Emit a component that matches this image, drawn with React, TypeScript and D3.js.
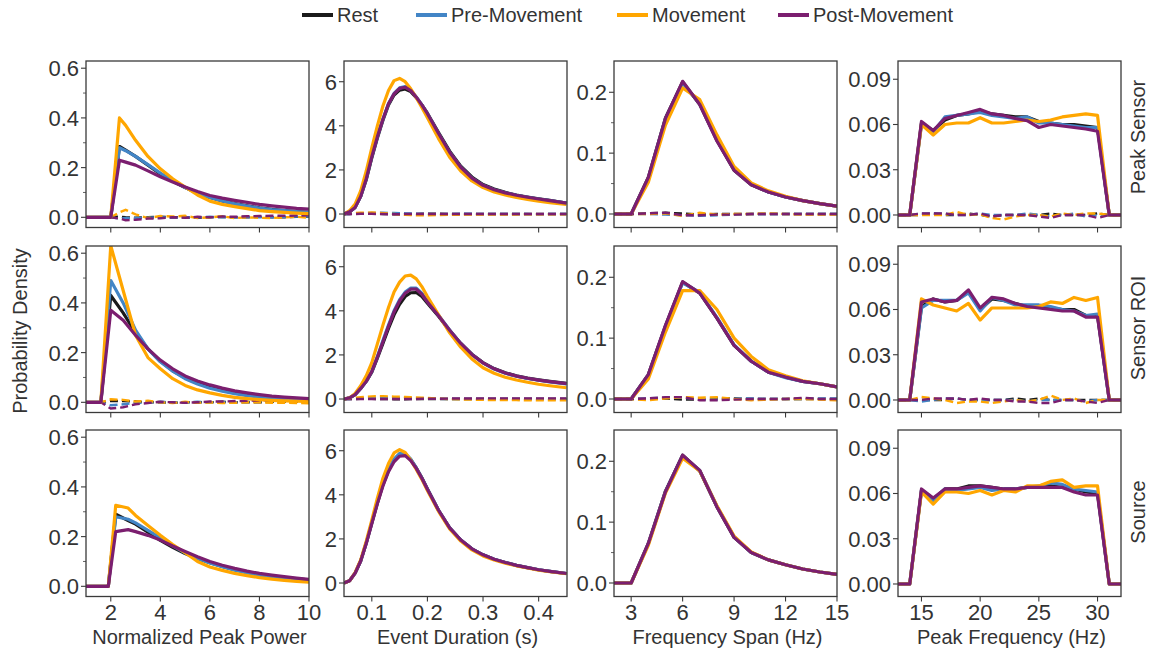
import React from 'react';
import * as d3 from 'd3';

// ---------------- legend / labels ----------------
const CONDITIONS = ['Rest', 'Pre-Movement', 'Movement', 'Post-Movement'];
const COLORS = ['#1a1a1a', '#4285c6', '#ffa600', '#7b1e6f'];
const ROW_LABELS = ['Peak Sensor', 'Sensor ROI', 'Source'];
const X_LABELS = ['Normalized Peak Power', 'Event Duration (s)', 'Frequency Span (Hz)', 'Peak Frequency (Hz)'];
const Y_LABEL = 'Probability Density';

// ---------------- tick values ----------------
const powerXTicks = [2, 4, 6, 8, 10];
const durXTicks = [0.1, 0.2, 0.3, 0.4];
const spanXTicks = [3, 6, 9, 12, 15];
const freqXTicks = [15, 20, 25, 30];
const powerYTicks = [0, 0.2, 0.4, 0.6];
const durYTicks = [0, 2, 4, 6];
const spanYTicks = [0, 0.1, 0.2];
const freqYTicks = [0, 0.03, 0.06, 0.09];
const powerYMinor = [0.1, 0.3, 0.5];
const spanYMinor = [0.05, 0.15];

// ---------------- Normalized Peak Power ----------------
const powerX1 = [1, 2.0, 2.35, 2.6, 3, 3.5, 4, 4.5, 5, 5.5, 6, 6.5, 7, 7.5, 8, 8.5, 9, 9.5, 10];
const powerX2 = [1, 1.6, 2.0, 2.5, 3, 3.5, 4, 4.5, 5, 5.5, 6, 6.5, 7, 7.5, 8, 8.5, 9, 9.5, 10];
const powerX3 = [1, 1.9, 2.2, 2.7, 3, 3.5, 4, 4.5, 5, 5.5, 6, 6.5, 7, 7.5, 8, 8.5, 9, 9.5, 10];

const powerR1Rest = [0, 0, 0.285, 0.27, 0.245, 0.21, 0.175, 0.145, 0.12, 0.098, 0.08, 0.066, 0.055, 0.046, 0.038, 0.032, 0.027, 0.023, 0.02];
const powerR1Pre = [0, 0, 0.28, 0.268, 0.245, 0.212, 0.178, 0.147, 0.12, 0.098, 0.08, 0.066, 0.054, 0.045, 0.037, 0.031, 0.027, 0.023, 0.02];
const powerR1Move = [0, 0, 0.4, 0.37, 0.31, 0.245, 0.195, 0.155, 0.122, 0.09, 0.065, 0.052, 0.043, 0.035, 0.027, 0.023, 0.02, 0.017, 0.015];
const powerR1Post = [0, 0, 0.23, 0.222, 0.21, 0.187, 0.163, 0.142, 0.122, 0.104, 0.088, 0.077, 0.068, 0.06, 0.052, 0.046, 0.041, 0.036, 0.033];
const powerR1RestD = [0, 0, 0.003, 0, -0.002, 0, 0.002, 0, 0, -0.002, 0, 0.002, 0, 0, 0.002, 0, 0, 0.002, 0.003];
const powerR1PreD = [0, 0, -0.005, -0.003, -0.004, -0.002, 0, -0.002, 0, 0, 0.002, 0, 0, 0.002, 0, 0, 0.002, 0.003, 0.004];
const powerR1MoveD = [0, 0, 0.02, 0.03, 0.012, -0.003, 0.005, 0.003, 0.006, -0.003, 0, 0.004, -0.003, 0, -0.002, -0.003, 0, 0.002, -0.002];
const powerR1PostD = [0, 0, -0.005, -0.012, -0.01, -0.005, -0.004, 0, -0.002, 0.002, 0, 0.003, 0.002, 0.004, 0.005, 0.006, 0.006, 0.007, 0.008];

const powerR2Rest = [0, 0, 0.43, 0.36, 0.28, 0.215, 0.165, 0.127, 0.098, 0.077, 0.06, 0.048, 0.038, 0.03, 0.024, 0.019, 0.015, 0.012, 0.01];
const powerR2Pre = [0, 0, 0.49, 0.4, 0.29, 0.215, 0.163, 0.125, 0.095, 0.074, 0.057, 0.045, 0.035, 0.027, 0.021, 0.016, 0.012, 0.01, 0.008];
const powerR2Move = [0, 0, 0.63, 0.45, 0.27, 0.18, 0.135, 0.095, 0.068, 0.05, 0.038, 0.028, 0.02, 0.015, 0.011, 0.008, 0.006, 0.005, 0.004];
const powerR2Post = [0, 0, 0.37, 0.33, 0.27, 0.215, 0.17, 0.135, 0.106, 0.086, 0.07, 0.057, 0.046, 0.038, 0.031, 0.025, 0.021, 0.018, 0.015];
const powerR2RestD = [0, 0, 0.005, 0.005, 0.003, 0, 0, -0.002, 0, 0, 0, 0.002, 0, 0, 0, 0.002, 0.002, 0.002, 0.002];
const powerR2PreD = [0, 0, -0.012, -0.008, -0.003, 0, 0.002, 0, 0, 0.002, 0, 0, 0, 0.002, 0.003, 0.004, 0.004, 0.003, 0.003];
const powerR2MoveD = [0, 0, 0.012, 0.01, 0.003, 0.006, 0, -0.003, 0.002, -0.002, 0, -0.003, -0.002, 0, 0, -0.002, -0.002, -0.003, -0.004];
const powerR2PostD = [0, 0, -0.025, -0.02, -0.008, -0.003, 0.002, 0, -0.002, 0, 0.003, 0.003, 0.005, 0.006, 0.008, 0.009, 0.01, 0.01, 0.01];

const powerR3Rest = [0, 0, 0.29, 0.265, 0.25, 0.218, 0.185, 0.157, 0.132, 0.112, 0.095, 0.08, 0.067, 0.057, 0.048, 0.041, 0.035, 0.03, 0.026];
const powerR3Pre = [0, 0, 0.28, 0.27, 0.255, 0.225, 0.195, 0.163, 0.135, 0.113, 0.094, 0.079, 0.065, 0.054, 0.045, 0.038, 0.032, 0.028, 0.024];
const powerR3Move = [0, 0, 0.326, 0.315, 0.285, 0.245, 0.205, 0.168, 0.135, 0.1, 0.078, 0.064, 0.052, 0.043, 0.035, 0.029, 0.024, 0.02, 0.017];
const powerR3Post = [0, 0, 0.22, 0.228, 0.22, 0.205, 0.186, 0.162, 0.14, 0.119, 0.1, 0.085, 0.072, 0.061, 0.052, 0.045, 0.039, 0.033, 0.028];

// ---------------- Event Duration ----------------
const durX = [0.05, 0.06, 0.07, 0.08, 0.09, 0.1, 0.11, 0.12, 0.13, 0.14, 0.15, 0.16, 0.17, 0.18, 0.19, 0.2, 0.22, 0.24, 0.26, 0.28, 0.3, 0.32, 0.34, 0.36, 0.38, 0.4, 0.42, 0.45];

const durR1Rest = [0, 0.1, 0.3, 0.8, 1.55, 2.55, 3.45, 4.25, 4.95, 5.4, 5.62, 5.67, 5.55, 5.28, 4.95, 4.57, 3.7, 2.85, 2.17, 1.68, 1.34, 1.13, 0.98, 0.86, 0.77, 0.69, 0.62, 0.5];
const durR1Pre = [0, 0.1, 0.3, 0.8, 1.6, 2.6, 3.5, 4.3, 5.0, 5.47, 5.72, 5.78, 5.62, 5.31, 4.95, 4.55, 3.65, 2.8, 2.12, 1.63, 1.3, 1.1, 0.96, 0.85, 0.76, 0.68, 0.61, 0.49];
const durR1Move = [0, 0.15, 0.45, 1.05, 1.95, 3.0, 4.0, 4.9, 5.6, 6.05, 6.15, 6.0, 5.68, 5.28, 4.83, 4.37, 3.42, 2.58, 1.95, 1.5, 1.2, 1.0, 0.86, 0.75, 0.66, 0.58, 0.52, 0.43];
const durR1Post = [0, 0.1, 0.3, 0.8, 1.6, 2.6, 3.5, 4.3, 5.0, 5.45, 5.7, 5.75, 5.6, 5.3, 4.95, 4.55, 3.65, 2.8, 2.12, 1.63, 1.3, 1.1, 0.96, 0.85, 0.76, 0.68, 0.61, 0.49];
const durR1RestD = [0, 0, 0.01, 0.02, 0.02, 0.02, 0.01, 0, 0, -0.01, -0.01, 0, 0, 0, 0.01, 0.01, 0.01, 0, 0, 0, 0, 0, 0, 0, 0, 0, 0, 0];
const durR1PreD = [0, 0, 0.02, 0.03, 0.04, 0.05, 0.05, 0.06, 0.05, 0.05, 0.04, 0.03, 0.02, 0.01, 0, 0, -0.01, 0, 0.01, 0.01, 0, 0, 0, 0, 0, -0.01, 0, 0];
const durR1MoveD = [0, 0.02, 0.04, 0.06, 0.06, 0.07, 0.06, 0.04, 0.02, 0, -0.02, -0.04, -0.05, -0.06, -0.06, -0.06, -0.05, -0.04, -0.03, -0.03, -0.02, -0.02, -0.02, -0.02, -0.01, -0.01, -0.01, -0.01];
const durR1PostD = [0, 0, 0, 0.01, 0.01, 0.01, 0, 0, -0.01, -0.01, -0.01, 0, 0, 0, 0, 0, 0, 0, 0, 0, 0, 0, 0, 0, 0, 0, 0, 0];

const durR2Rest = [0, 0.05, 0.2, 0.48, 0.8, 1.22, 1.85, 2.52, 3.2, 3.82, 4.3, 4.65, 4.82, 4.83, 4.65, 4.35, 3.75, 3.1, 2.52, 2.03, 1.65, 1.38, 1.19, 1.05, 0.95, 0.87, 0.8, 0.71];
const durR2Pre = [0, 0.05, 0.2, 0.48, 0.8, 1.25, 1.92, 2.65, 3.35, 4.0, 4.5, 4.85, 5.03, 5.03, 4.8, 4.42, 3.8, 3.13, 2.52, 2.02, 1.63, 1.36, 1.17, 1.03, 0.93, 0.85, 0.78, 0.69];
const durR2Move = [0, 0.05, 0.25, 0.6, 1.05, 1.65, 2.5, 3.35, 4.15, 4.85, 5.3, 5.58, 5.62, 5.45, 5.1, 4.65, 3.82, 3.0, 2.35, 1.82, 1.42, 1.17, 0.99, 0.86, 0.76, 0.67, 0.6, 0.51];
const durR2Post = [0, 0.05, 0.2, 0.48, 0.8, 1.25, 1.9, 2.6, 3.3, 3.95, 4.45, 4.8, 4.98, 4.98, 4.75, 4.4, 3.78, 3.12, 2.52, 2.02, 1.64, 1.37, 1.18, 1.04, 0.94, 0.86, 0.79, 0.7];
const durR2RestD = [0, 0, 0, 0.01, 0.01, 0.01, 0, 0, 0, -0.01, -0.01, -0.01, 0, 0, 0, 0, 0, 0, 0, 0, 0, 0, 0, 0, 0, 0, 0, 0];
const durR2PreD = [0, 0, 0.01, 0.02, 0.03, 0.04, 0.05, 0.06, 0.06, 0.06, 0.05, 0.05, 0.04, 0.03, 0.02, 0.02, 0.01, 0, 0, 0, 0, 0, 0, 0, 0, 0, 0, 0];
const durR2MoveD = [0, 0.02, 0.05, 0.08, 0.1, 0.12, 0.13, 0.13, 0.12, 0.11, 0.1, 0.09, 0.08, 0.07, 0.06, 0.05, 0.02, 0, -0.02, -0.03, -0.04, -0.05, -0.05, -0.05, -0.06, -0.06, -0.06, -0.06];
const durR2PostD = [0, 0, 0, 0, 0, 0, 0, 0, 0, 0, 0, 0, 0, 0, 0.01, 0.01, 0.01, 0.02, 0.02, 0.02, 0.03, 0.03, 0.03, 0.03, 0.03, 0.03, 0.03, 0.03];

const durR3Rest = [0, 0.1, 0.45, 1.0, 1.8, 2.72, 3.62, 4.45, 5.1, 5.58, 5.83, 5.83, 5.6, 5.22, 4.77, 4.27, 3.3, 2.5, 1.95, 1.55, 1.28, 1.08, 0.93, 0.8, 0.7, 0.6, 0.53, 0.43];
const durR3Pre = [0, 0.1, 0.45, 1.0, 1.82, 2.75, 3.68, 4.5, 5.15, 5.62, 5.88, 5.88, 5.62, 5.22, 4.76, 4.26, 3.3, 2.5, 1.95, 1.55, 1.28, 1.08, 0.93, 0.8, 0.7, 0.6, 0.53, 0.43];
const durR3Move = [0, 0.1, 0.47, 1.05, 1.9, 2.85, 3.85, 4.75, 5.42, 5.9, 6.05, 5.92, 5.57, 5.15, 4.7, 4.2, 3.25, 2.45, 1.9, 1.5, 1.23, 1.04, 0.9, 0.78, 0.68, 0.58, 0.51, 0.42];
const durR3Post = [0, 0.1, 0.45, 1.0, 1.8, 2.7, 3.6, 4.4, 5.05, 5.5, 5.75, 5.78, 5.55, 5.2, 4.75, 4.25, 3.3, 2.5, 1.95, 1.55, 1.28, 1.08, 0.93, 0.8, 0.7, 0.6, 0.53, 0.43];

// ---------------- Frequency Span ----------------
const spanX = [2, 3, 4, 5, 6, 7, 8, 9, 10, 11, 12, 13, 14, 15];

const spanR1Rest = [0, 0, 0.06, 0.158, 0.217, 0.18, 0.121, 0.072, 0.048, 0.036, 0.028, 0.022, 0.017, 0.013];
const spanR1Pre = [0, 0, 0.058, 0.156, 0.215, 0.181, 0.122, 0.073, 0.049, 0.036, 0.028, 0.022, 0.017, 0.013];
const spanR1Move = [0, 0, 0.052, 0.146, 0.207, 0.188, 0.13, 0.078, 0.051, 0.038, 0.029, 0.022, 0.017, 0.013];
const spanR1Post = [0, 0, 0.06, 0.157, 0.218, 0.18, 0.12, 0.072, 0.048, 0.036, 0.028, 0.022, 0.017, 0.013];
const spanR1RestD = [0, 0, 0.001, 0.002, 0.001, -0.001, 0, 0, 0, 0, 0, 0, 0, 0];
const spanR1PreD = [0, 0, 0, -0.001, -0.002, -0.003, -0.002, -0.001, 0, 0, 0, 0, 0, 0];
const spanR1MoveD = [0, 0, 0, 0.001, -0.003, 0.002, -0.001, 0, 0, 0.001, 0, -0.001, -0.001, -0.001];
const spanR1PostD = [0, 0, 0.001, 0.002, -0.002, -0.002, -0.001, -0.001, 0, 0, 0, 0, 0, 0];

const spanR2Rest = [0, 0, 0.04, 0.12, 0.192, 0.174, 0.133, 0.088, 0.062, 0.044, 0.036, 0.029, 0.025, 0.02];
const spanR2Pre = [0, 0, 0.039, 0.12, 0.191, 0.175, 0.134, 0.089, 0.062, 0.044, 0.035, 0.029, 0.025, 0.02];
const spanR2Move = [0, 0, 0.033, 0.11, 0.178, 0.178, 0.147, 0.1, 0.07, 0.048, 0.038, 0.03, 0.025, 0.02];
const spanR2Post = [0, 0, 0.04, 0.121, 0.193, 0.174, 0.133, 0.088, 0.062, 0.044, 0.036, 0.029, 0.025, 0.02];
const spanR2RestD = [0, 0, 0, 0.001, -0.001, -0.001, 0.001, 0.001, 0, 0, 0, 0, 0, 0];
const spanR2PreD = [0, 0, 0.001, 0.002, 0.002, 0, -0.001, 0, 0.001, 0, 0, 0, 0.001, 0.001];
const spanR2MoveD = [0, 0, -0.002, 0.001, 0.003, 0.002, 0.003, 0, -0.002, -0.001, 0, 0, -0.001, -0.002];
const spanR2PostD = [0, 0, 0.001, 0.003, 0.003, -0.002, -0.002, -0.001, 0, 0, 0, 0.002, 0, 0];

const spanR3Rest = [0, 0, 0.065, 0.151, 0.21, 0.184, 0.125, 0.075, 0.05, 0.038, 0.03, 0.023, 0.018, 0.014];
const spanR3Pre = [0, 0, 0.064, 0.15, 0.209, 0.185, 0.126, 0.076, 0.05, 0.038, 0.03, 0.023, 0.018, 0.014];
const spanR3Move = [0, 0, 0.062, 0.148, 0.205, 0.184, 0.127, 0.077, 0.051, 0.038, 0.03, 0.023, 0.018, 0.014];
const spanR3Post = [0, 0, 0.065, 0.15, 0.21, 0.185, 0.125, 0.075, 0.05, 0.038, 0.03, 0.023, 0.018, 0.014];

// ---------------- Peak Frequency ----------------
const freqX = [13, 14, 15, 16, 17, 18, 19, 20, 21, 22, 23, 24, 25, 26, 27, 28, 29, 30, 31, 32];

const freqR1Rest = [0, 0, 0.061, 0.056, 0.063, 0.066, 0.067, 0.069, 0.067, 0.066, 0.065, 0.065, 0.062, 0.061, 0.06, 0.06, 0.059, 0.058, 0, 0];
const freqR1Pre = [0, 0, 0.06, 0.055, 0.065, 0.066, 0.067, 0.068, 0.066, 0.065, 0.064, 0.065, 0.061, 0.061, 0.06, 0.059, 0.058, 0.058, 0, 0];
const freqR1Move = [0, 0, 0.06, 0.053, 0.06, 0.061, 0.061, 0.0645, 0.061, 0.061, 0.062, 0.063, 0.062, 0.063, 0.065, 0.066, 0.067, 0.066, 0, 0];
const freqR1Post = [0, 0, 0.062, 0.056, 0.064, 0.066, 0.068, 0.07, 0.067, 0.066, 0.064, 0.0625, 0.058, 0.06, 0.059, 0.058, 0.057, 0.0555, 0, 0];
const freqR1RestD = [0, 0, 0, 0.001, 0, 0, 0.001, 0, -0.001, 0, 0, 0, 0, 0.001, 0, 0, 0, 0.001, 0, 0];
const freqR1PreD = [0, 0, 0.001, 0.001, 0.001, 0, 0, 0.001, 0, 0, 0, 0.001, 0, -0.001, 0, 0.001, -0.001, 0, 0, 0];
const freqR1MoveD = [0, 0, 0, 0, 0, 0.002, 0, 0.0005, -0.002, -0.003, -0.001, 0, 0, -0.001, 0.001, 0, 0.001, 0.001, 0, 0];
const freqR1PostD = [0, 0, 0.001, 0.001, 0.001, 0, 0, 0.001, -0.001, 0, 0, 0, -0.001, -0.002, 0, 0, 0, -0.002, 0, 0];

const freqR2Rest = [0, 0, 0.062, 0.067, 0.065, 0.066, 0.072, 0.06, 0.067, 0.066, 0.064, 0.062, 0.062, 0.061, 0.06, 0.06, 0.056, 0.056, 0, 0];
const freqR2Pre = [0, 0, 0.061, 0.066, 0.066, 0.066, 0.071, 0.059, 0.068, 0.066, 0.063, 0.063, 0.063, 0.062, 0.06, 0.059, 0.056, 0.057, 0, 0];
const freqR2Move = [0, 0, 0.067, 0.063, 0.061, 0.059, 0.064, 0.053, 0.061, 0.061, 0.061, 0.061, 0.062, 0.065, 0.064, 0.068, 0.066, 0.068, 0, 0];
const freqR2Post = [0, 0, 0.065, 0.067, 0.065, 0.066, 0.073, 0.061, 0.068, 0.067, 0.064, 0.062, 0.061, 0.06, 0.059, 0.059, 0.055, 0.055, 0, 0];
const freqR2RestD = [0, 0, 0, 0, 0, 0.001, 0, 0, 0, 0, 0.001, 0, 0.001, 0, 0, 0, 0, 0, 0, 0];
const freqR2PreD = [0, 0, -0.001, 0, 0.001, 0.001, 0, 0, 0, 0, 0, -0.001, 0, 0, 0, 0, -0.001, 0, 0, 0];
const freqR2MoveD = [0, 0, 0.002, 0.001, 0, -0.002, -0.001, -0.001, -0.002, -0.001, 0, -0.001, 0, 0.003, 0, 0.001, -0.002, 0, 0, 0];
const freqR2PostD = [0, 0, 0, 0.001, 0.001, 0.001, 0, 0.001, 0, 0, -0.001, -0.001, -0.002, -0.002, 0, 0, -0.001, -0.002, 0, 0];

const freqR3Rest = [0, 0, 0.062, 0.056, 0.063, 0.063, 0.065, 0.065, 0.064, 0.063, 0.063, 0.064, 0.064, 0.065, 0.064, 0.063, 0.061, 0.06, 0, 0];
const freqR3Pre = [0, 0, 0.062, 0.055, 0.063, 0.062, 0.063, 0.064, 0.062, 0.063, 0.063, 0.064, 0.065, 0.067, 0.066, 0.063, 0.062, 0.061, 0, 0];
const freqR3Move = [0, 0, 0.061, 0.053, 0.061, 0.061, 0.06, 0.062, 0.059, 0.062, 0.061, 0.065, 0.065, 0.068, 0.069, 0.064, 0.065, 0.065, 0, 0];
const freqR3Post = [0, 0, 0.063, 0.057, 0.063, 0.063, 0.064, 0.065, 0.064, 0.063, 0.063, 0.064, 0.064, 0.064, 0.064, 0.061, 0.059, 0.059, 0, 0];

// ---------------- assemble ----------------
type Panel = { x: number[]; solid: number[][]; dashed: number[][] | null };

const PANELS: Panel[][] = [
  [
    { x: powerX1, solid: [powerR1Rest, powerR1Pre, powerR1Move, powerR1Post], dashed: [powerR1RestD, powerR1PreD, powerR1MoveD, powerR1PostD] },
    { x: durX, solid: [durR1Rest, durR1Pre, durR1Move, durR1Post], dashed: [durR1RestD, durR1PreD, durR1MoveD, durR1PostD] },
    { x: spanX, solid: [spanR1Rest, spanR1Pre, spanR1Move, spanR1Post], dashed: [spanR1RestD, spanR1PreD, spanR1MoveD, spanR1PostD] },
    { x: freqX, solid: [freqR1Rest, freqR1Pre, freqR1Move, freqR1Post], dashed: [freqR1RestD, freqR1PreD, freqR1MoveD, freqR1PostD] },
  ],
  [
    { x: powerX2, solid: [powerR2Rest, powerR2Pre, powerR2Move, powerR2Post], dashed: [powerR2RestD, powerR2PreD, powerR2MoveD, powerR2PostD] },
    { x: durX, solid: [durR2Rest, durR2Pre, durR2Move, durR2Post], dashed: [durR2RestD, durR2PreD, durR2MoveD, durR2PostD] },
    { x: spanX, solid: [spanR2Rest, spanR2Pre, spanR2Move, spanR2Post], dashed: [spanR2RestD, spanR2PreD, spanR2MoveD, spanR2PostD] },
    { x: freqX, solid: [freqR2Rest, freqR2Pre, freqR2Move, freqR2Post], dashed: [freqR2RestD, freqR2PreD, freqR2MoveD, freqR2PostD] },
  ],
  [
    { x: powerX3, solid: [powerR3Rest, powerR3Pre, powerR3Move, powerR3Post], dashed: null },
    { x: durX, solid: [durR3Rest, durR3Pre, durR3Move, durR3Post], dashed: null },
    { x: spanX, solid: [spanR3Rest, spanR3Pre, spanR3Move, spanR3Post], dashed: null },
    { x: freqX, solid: [freqR3Rest, freqR3Pre, freqR3Move, freqR3Post], dashed: null },
  ],
];

const COLUMNS = [
  { xDomain: [1, 10], yDomain: [-0.041, 0.629], xTicks: powerXTicks, yTicks: powerYTicks, yMinor: powerYMinor, xFmt: d3.format('d'), yFmt: d3.format('.1f') },
  { xDomain: [0.05, 0.451], yDomain: [-0.612, 6.94], xTicks: durXTicks, yTicks: durYTicks, yMinor: [] as number[], xFmt: d3.format('.1f'), yFmt: d3.format('d') },
  { xDomain: [2, 15], yDomain: [-0.0222, 0.2514], xTicks: spanXTicks, yTicks: spanYTicks, yMinor: spanYMinor, xFmt: d3.format('d'), yFmt: d3.format('.1f') },
  { xDomain: [13, 32], yDomain: [-0.0083, 0.1021], xTicks: freqXTicks, yTicks: freqYTicks, yMinor: [] as number[], xFmt: d3.format('d'), yFmt: d3.format('.2f') },
];

// ---------------- layout ----------------
const COL_LEFT = [86, 344, 614, 898];
const ROW_TOP = [61, 246, 430];
const PW = 223;
const PH = 166.5;
const TEXT = '#333333';
const AXIS = '#3a3a3a';
const FONT = "'Liberation Sans', Arial, Helvetica, sans-serif";
const ROW_LABEL_Y = [137, 328, 512];
const LEGEND_X = [302, 416, 617, 778];

function PanelView({ r, c }: { r: number; c: number }) {
  const col = COLUMNS[c];
  const p = PANELS[r][c];
  const x = d3.scaleLinear().domain(col.xDomain).range([0, PW]);
  const y = d3.scaleLinear().domain(col.yDomain).range([PH, 0]);
  const idx = d3.range(p.x.length);
  const mk = (vals: number[]) =>
    d3.line<number>().x((i) => x(p.x[i])).y((i) => y(vals[i]))(idx) || '';
  const clipId = `clip-${r}-${c}`;
  return (
    <g transform={`translate(${COL_LEFT[c]},${ROW_TOP[r]})`}>
      <defs>
        <clipPath id={clipId}>
          <rect x={0} y={0} width={PW} height={PH} />
        </clipPath>
      </defs>
      <g clipPath={`url(#${clipId})`}>
        {p.dashed &&
          p.dashed.map((vals, k) => (
            <path key={`d${k}`} d={mk(vals)} fill="none" stroke={COLORS[k]} strokeWidth={2.4} strokeDasharray="8,4" />
          ))}
        {p.solid.map((vals, k) => (
          <path key={`s${k}`} d={mk(vals)} fill="none" stroke={COLORS[k]} strokeWidth={3.2} strokeLinejoin="round" />
        ))}
      </g>
      <rect x={0} y={0} width={PW} height={PH} fill="none" stroke={AXIS} strokeWidth={1.3} />
      {col.yTicks.map((t) => (
        <g key={`yt${t}`} transform={`translate(0,${y(t)})`}>
          <line x1={-5} x2={0} stroke={AXIS} strokeWidth={1.1} />
          <text x={-7} dy="0.36em" textAnchor="end" fontSize={22} fill={TEXT}>
            {col.yFmt(t)}
          </text>
        </g>
      ))}
      {col.yMinor.map((t) => (
        <line key={`ym${t}`} x1={-3} x2={0} y1={y(t)} y2={y(t)} stroke={AXIS} strokeWidth={0.8} />
      ))}
      {col.xTicks.map((t) => (
        <g key={`xt${t}`} transform={`translate(${x(t)},${PH})`}>
          <line y1={0} y2={5} stroke={AXIS} strokeWidth={1.1} />
          {r === 2 && (
            <text y={23} textAnchor="middle" fontSize={22} fill={TEXT}>
              {col.xFmt(t)}
            </text>
          )}
        </g>
      ))}
    </g>
  );
}

export default function App() {
  return (
    <svg
      width={1154}
      height={652}
      style={{ position: 'absolute', left: 0, top: 0, display: 'block', background: '#fff' }}
      fontFamily={FONT}
    >
      <rect x={0} y={0} width={1154} height={652} fill="#fff" />
      {/* legend */}
      {CONDITIONS.map((name, k) => (
        <g key={name} transform={`translate(${LEGEND_X[k]},15)`}>
          <line x1={0} x2={31} y1={0} y2={0} stroke={COLORS[k]} strokeWidth={4} />
          <text x={35} dy="0.36em" fontSize={20} fill={TEXT}>
            {name}
          </text>
        </g>
      ))}
      {ROW_TOP.map((_, r) => COL_LEFT.map((__, c) => <PanelView key={`${r}-${c}`} r={r} c={c} />))}
      {/* x labels */}
      {X_LABELS.map((lab, c) => (
        <text key={lab} x={COL_LEFT[c] + PW / 2 + 2} y={644} textAnchor="middle" fontSize={20} fill={TEXT}>
          {lab}
        </text>
      ))}
      {/* y label */}
      <text transform="translate(27,331) rotate(-90)" textAnchor="middle" fontSize={20} fill={TEXT}>
        {Y_LABEL}
      </text>
      {/* row labels */}
      {ROW_LABELS.map((lab, r) => (
        <text key={lab} transform={`translate(1145,${ROW_LABEL_Y[r]}) rotate(-90)`} textAnchor="middle" fontSize={20} fill={TEXT}>
          {lab}
        </text>
      ))}
    </svg>
  );
}
